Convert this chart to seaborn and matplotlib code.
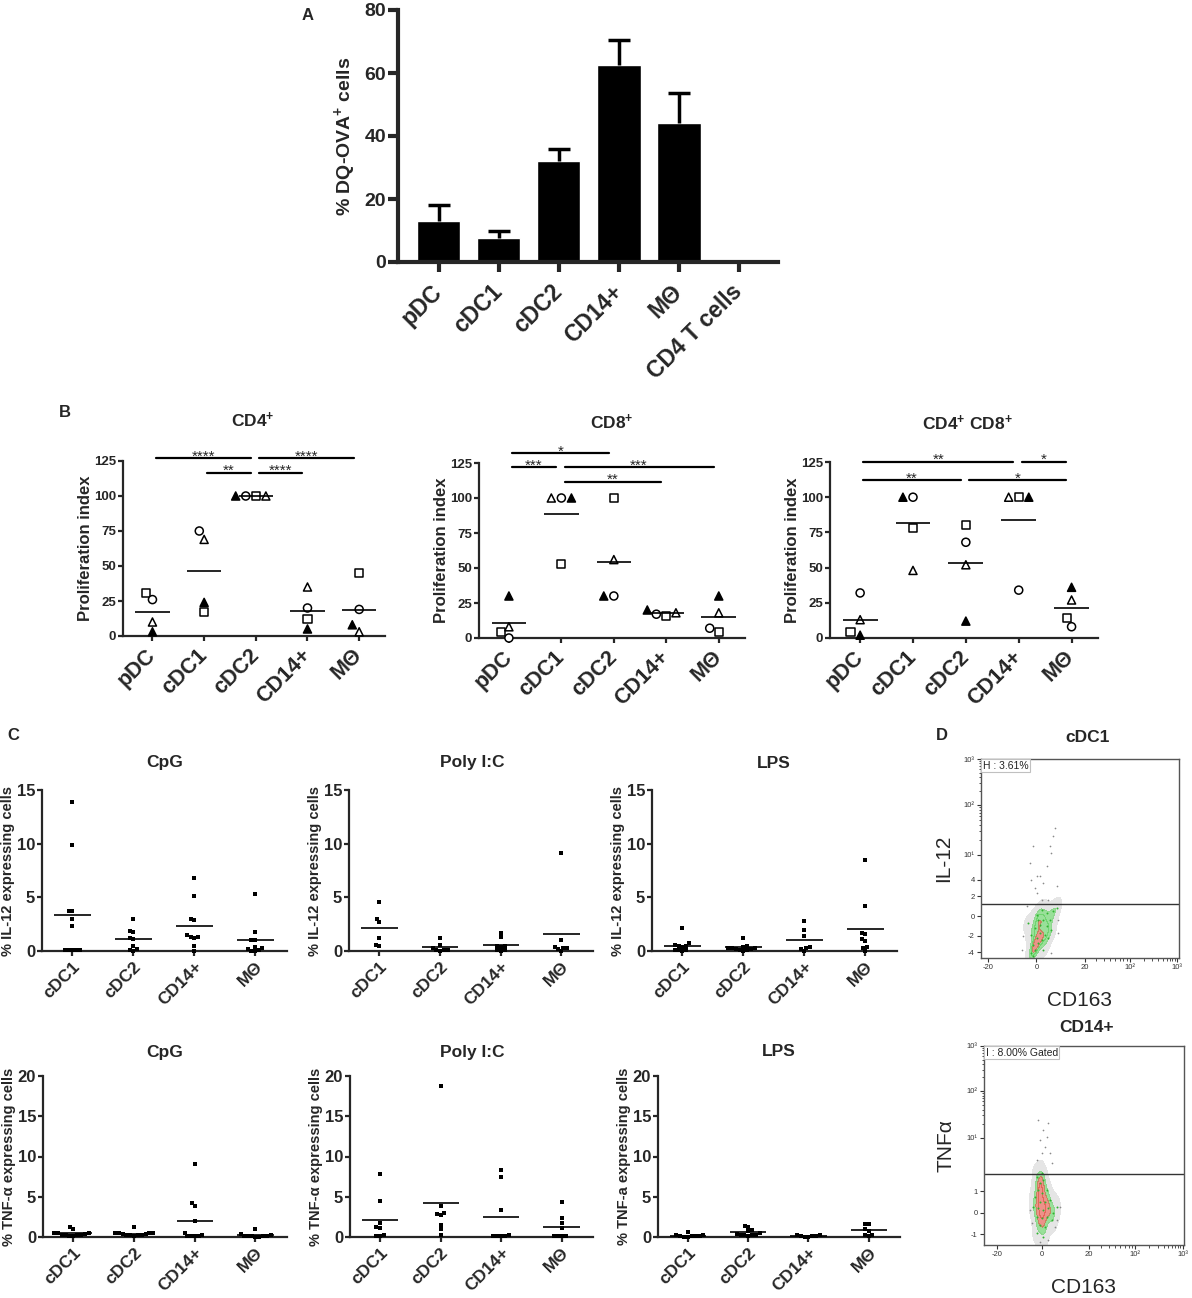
import numpy as np
import pandas as pd
import seaborn as sns
import matplotlib
matplotlib.use("Agg")
import matplotlib.pyplot as plt
from matplotlib.markers import MarkerStyle
from matplotlib.colors import ListedColormap

W, H = 1192, 1298

# ---------------- A: DQ-OVA uptake (mean + SEM)
a_cells = ["pDC", "cDC1", "cDC2", "CD14+", "MΘ", "CD4 T cells"]
a_mean = [13, 7.5, 32, 62.5, 44, 0]
a_sem = [5, 2.5, 4, 8, 9.5, 0]

# ---------------- B: proliferation index, one list per donor (pDC, cDC1, cDC2, CD14+, MΘ)
b_cells = ["pDC", "cDC1", "cDC2", "CD14+", "MΘ"]
cd4_sq = [31, 17, 100, 12, 45]
cd4_ci = [26, 75, 100, 20, 19]
cd4_to = [10, 69, 100, 35, 3]
cd4_tf = [3, 24, 100, 5, 8]

cd8_sq = [4, 53, 100, 16, 4]
cd8_ci = [0, 100, 30, 17, 7]
cd8_to = [8, 100, 56, 18, 18]
cd8_tf = [30, 100, 30, 20, 30]

dp_sq = [4, 78, 80, 100, 14]
dp_ci = [32, 100, 68, 34, 8]
dp_to = [13, 48, 52, 100, 27]
dp_tf = [2, 100, 12, 100, 36]

# significance bars: (from, to, stars, height)
cd4_sig = [("pDC", "cDC2", "****", 127), ("cDC2", "MΘ", "****", 127),
           ("cDC1", "cDC2", "**", 116.5), ("cDC2", "CD14+", "****", 116.5)]
cd8_sig = [("pDC", "cDC2", "*", 132), ("pDC", "cDC1", "***", 122),
           ("cDC1", "MΘ", "***", 122), ("cDC1", "CD14+", "**", 111.5)]
dp_sig = [("pDC", "CD14+", "**", 125), ("CD14+", "MΘ", "*", 125),
          ("pDC", "cDC2", "**", 112), ("cDC2", "MΘ", "*", 112)]

# ---------------- C: cytokine expressing cells (%)
c_cells = ["cDC1", "cDC2", "CD14+", "MΘ"]
il12_cpg = {"cDC1": [13.9, 9.9, 3.7, 3.7, 2.95, 2.35, 0.1, 0.1, 0.1, 0.1, 0.1],
            "cDC2": [3.0, 1.9, 1.8, 1.2, 1.1, 0.5, 0.2, 0.1, 0.0],
            "CD14+": [6.8, 5.1, 3.0, 2.9, 1.5, 1.3, 1.3, 1.2, 0.5, 0.0],
            "MΘ": [5.3, 1.8, 1.0, 1.0, 0.4, 0.3, 0.2, 0.1, 0.0, 0.0]}
il12_pic = {"cDC1": [4.6, 3.0, 2.7, 1.2, 0.6, 0.5],
            "cDC2": [1.2, 0.6, 0.3, 0.1, 0.1, 0.05, 0.0],
            "CD14+": [1.7, 1.3, 0.5, 0.5, 0.4, 0.1, 0.05, 0.0],
            "MΘ": [9.1, 1.0, 0.4, 0.3, 0.3, 0.2, 0.0]}
il12_lps = {"cDC1": [2.1, 0.7, 0.6, 0.5, 0.5, 0.4, 0.1, 0.1, 0.1, 0.0],
            "cDC2": [1.2, 0.5, 0.4, 0.3, 0.3, 0.3, 0.2, 0.2, 0.1, 0.1, 0.0],
            "CD14+": [2.8, 2.0, 1.4, 0.4, 0.3, 0.2, 0.0],
            "MΘ": [8.5, 4.2, 1.7, 1.6, 1.1, 0.9, 0.4, 0.3, 0.0]}
tnf_cpg = {"cDC1": [1.2, 1.0, 0.5, 0.5, 0.5, 0.4, 0.3, 0.3, 0.2, 0.2, 0.1, 0.1],
           "cDC2": [1.2, 0.5, 0.5, 0.5, 0.4, 0.4, 0.3, 0.3, 0.2, 0.2, 0.1, 0.5],
           "CD14+": [9.1, 4.2, 3.9, 2.0, 0.5, 0.3, 0.1, 0.1, 0.1, 0.1],
           "MΘ": [1.0, 0.4, 0.3, 0.1, 0.1, 0.1, 0.1, 0.1, 0.0, 0.0]}
tnf_pic = {"cDC1": [7.8, 4.5, 1.8, 1.2, 1.1, 0.2, 0.1, 0.1],
           "cDC2": [18.8, 3.8, 3.0, 2.9, 2.7, 1.5, 1.0, 0.3],
           "CD14+": [8.3, 7.5, 3.4, 0.2, 0.1, 0.1, 0.1, 0.1],
           "MΘ": [4.4, 2.3, 1.7, 1.1, 0.1, 0.1, 0.1, 0.1]}
tnf_lps = {"cDC1": [0.6, 0.3, 0.2, 0.1, 0.1, 0.1, 0.1, 0.05, 0.0],
           "cDC2": [1.4, 1.2, 0.9, 0.7, 0.5, 0.4, 0.3, 0.3, 0.2, 0.2, 0.1],
           "CD14+": [0.3, 0.2, 0.1, 0.1, 0.1, 0.05, 0.0],
           "MΘ": [1.6, 1.6, 1.0, 0.8, 0.3, 0.3, 0.1]}

# ---------------- D: flow plots, read-off events on a 0-1000 display scale
il12_core_x = [255, 272, 264, 289, 281, 306, 255, 297, 323, 272, 297, 331, 289, 314, 348,
               281, 331, 365, 306, 382, 239, 356, 264, 314, 339]
il12_core_y = [25, 42, 67, 75, 101, 92, 117, 126, 117, 151, 168, 159, 193, 193, 193,
               218, 226, 235, 243, 251, 176, 142, 8, 42, 101]
il12_sparse_x = [247, 264, 272, 281, 297, 314, 331, 356, 365, 373, 339, 306, 348, 281, 382,
                 255, 213, 205, 390, 390, 230, 356]
il12_sparse_y = [477, 561, 352, 327, 410, 377, 461, 528, 611, 653, 293, 293, 561, 410, 360,
                 394, 109, 42, 193, 126, 260, 25]
il12_xt_lab = ["-20", "0", "20", "10²", "10³"]
il12_xt_pos = [37, 280, 524, 751, 990]
il12_yt_lab = ["-4", "-2", "0", "2", "4", "10¹", "10²", "10³"]
il12_yt_pos = [28, 112, 209, 310, 394, 519, 770, 1000]
il12_gate = 271

tnf_core_x = [263, 280, 297, 272, 288, 313, 255, 280, 305, 330, 272, 297, 322, 263, 288,
              313, 347, 280, 305, 263, 297, 338, 363, 247, 288]
tnf_core_y = [343, 310, 327, 276, 260, 276, 243, 218, 218, 226, 184, 176, 184, 142, 134,
              142, 159, 101, 92, 59, 42, 126, 193, 193, 360]
tnf_sparse_x = [272, 297, 322, 280, 305, 330, 263, 338, 313, 288, 363, 380, 230, 355, 280,
                322, 238]
tnf_sparse_y = [628, 578, 611, 528, 494, 461, 427, 410, 544, 461, 126, 193, 176, 92, 17,
                25, 109]
tnf_xt_lab = ["-20", "0", "20", "10²", "10³"]
tnf_xt_pos = [63, 288, 525, 755, 993]
tnf_yt_lab = ["-1", "0", "1", "10¹", "10²", "10³"]
tnf_yt_pos = [54, 162, 271, 539, 774, 1000]
tnf_gate = 355


sns.set_style("ticks")
plt.rcParams["font.family"] = ["Liberation Sans", "DejaVu Sans"]
plt.rcParams["mathtext.fontset"] = "custom"
plt.rcParams["mathtext.rm"] = "Liberation Sans"
plt.rcParams["mathtext.bf"] = "Liberation Sans:bold"
plt.rcParams["mathtext.default"] = "bf"

fig = plt.figure(figsize=(W / 100, H / 100), dpi=100)


def place(l, t, r, b):
    return fig.add_axes([l / W, 1 - b / H, (r - l) / W, (b - t) / H])


def ftext(x, y, s, **kw):
    fig.text(x / W, 1 - y / H, s, ha="center", va="center", **kw)


def mpath(m):
    ms = MarkerStyle(m)
    return ms.get_path().transformed(ms.get_transform())


def base_style(ax, lw, tlen, yfs, xfs, cats, xpad, xva):
    sns.despine(ax=ax)
    for s in ["left", "bottom"]:
        ax.spines[s].set_linewidth(lw)
    ax.tick_params(width=lw, length=tlen, direction="out", labelsize=yfs, pad=1.5)
    ax.tick_params(axis="x", pad=xpad)
    for lab in ax.get_yticklabels():
        lab.set_fontweight("bold")
    ax.set_xticks(range(len(cats)))
    ax.set_xticklabels(cats, rotation=45, ha="right", va=xva, rotation_mode="anchor",
                       fontsize=xfs, fontweight="bold")
    ax.set_xlabel("")


# ---------------- A
ax = place(398, 10, 778, 262)
sns.barplot(x=a_cells, y=a_mean, color="black", saturation=1, width=0.72,
            errorbar=None, ax=ax)
eb = ax.errorbar(range(len(a_cells)), a_mean, yerr=[np.zeros(len(a_sem)), a_sem],
                 fmt="none", ecolor="black", elinewidth=2.5, capsize=8, capthick=2.5)
# one-sided error bars: hide the caps that sit on the bar tops
for cap in eb[1]:
    if np.allclose(cap.get_ydata(), a_mean):
        cap.set_visible(False)
ax.set_ylim(0, 80)
ax.set_xlim(-0.68, 5.65)
ax.set_yticks([0, 20, 40, 60, 80])
base_style(ax, 3, 7, 14, 16.5, a_cells, 12, "center")
ax.set_ylabel("% DQ-OVA$^{+}$ cells", fontsize=14, fontweight="bold", labelpad=5)
ftext(308, 15, "A", fontsize=12, fontweight="bold")

# ---------------- B
donor_style = {"sq": ("s", "white"), "ci": ("o", "white"),
               "to": ("^", "white"), "tf": ("^", "black")}


def prolif_panel(rect, donors, sig, title, tpos):
    ax = place(*rect)
    rows = []
    for key, vals in donors.items():
        for cell, v in zip(b_cells, vals):
            rows.append({"cell": cell, "donor": key, "value": v})
    df = pd.DataFrame(rows)
    sns.swarmplot(data=df, x="cell", y="value", order=b_cells, color="black",
                  size=5.8, linewidth=1.1, edgecolor="black", ax=ax)
    for coll in ax.collections:
        offs = coll.get_offsets()
        if len(offs) == 0:
            continue
        cell = b_cells[int(round(offs[:, 0].mean()))]
        sub = df[df["cell"] == cell]
        coll.set_paths([mpath(donor_style[d][0]) for d in sub["donor"]])
        coll.set_facecolor([donor_style[d][1] for d in sub["donor"]])
        coll.set_edgecolor("black")
        coll.set_clip_on(False)
    means = df.groupby("cell")["value"].mean().reindex(b_cells)
    pos = np.arange(len(b_cells))
    ax.hlines(means.values, pos - 0.33, pos + 0.33, color="black", lw=1.2, zorder=3)
    for a, b, stars, lev in sig:
        i, j = b_cells.index(a), b_cells.index(b)
        ax.plot([i + 0.06, j - 0.1], [lev, lev], color="black", lw=1.6, clip_on=False)
        ax.text((i + j) / 2 - 0.02, lev - 1.5, stars, ha="center", va="baseline",
                fontsize=11, clip_on=False)
    ax.set_ylim(0, 125)
    ax.set_xlim(-0.57, 4.5)
    ax.set_yticks([0, 25, 50, 75, 100, 125])
    base_style(ax, 1.6, 3.5, 9.5, 15.5, b_cells, 8, "center")
    ax.set_ylabel("Proliferation index", fontsize=12, fontweight="bold", labelpad=1)
    ftext(tpos[0], tpos[1], title, fontsize=12.5, fontweight="bold")


prolif_panel((123, 461, 385, 636), {"sq": cd4_sq, "ci": cd4_ci, "to": cd4_to, "tf": cd4_tf},
             cd4_sig, "CD4$^{+}$", (253, 420))
prolif_panel((479, 463, 745, 638), {"sq": cd8_sq, "ci": cd8_ci, "to": cd8_to, "tf": cd8_tf},
             cd8_sig, "CD8$^{+}$", (612, 422))
prolif_panel((830, 462, 1098, 638), {"sq": dp_sq, "ci": dp_ci, "to": dp_to, "tf": dp_tf},
             dp_sig, "CD4$^{+}$ CD8$^{+}$", (967, 423))
ftext(65, 413, "B", fontsize=12, fontweight="bold")


# ---------------- C
def cyto_panel(rect, values, ymax, ylabel, title, tpos):
    ax = place(*rect)
    df = pd.DataFrame([(c, v) for c in c_cells for v in values[c]], columns=["cell", "value"])
    sns.swarmplot(data=df, x="cell", y="value", order=c_cells, color="black",
                  marker="s", size=2.7, linewidth=0, ax=ax)
    for coll in ax.collections:
        coll.set_clip_on(False)
    means = df.groupby("cell")["value"].mean().reindex(c_cells)
    pos = np.arange(len(c_cells))
    ax.hlines(means.values, pos - 0.3, pos + 0.3, color="black", lw=1.2, zorder=3)
    ax.set_ylim(0, ymax)
    ax.set_xlim(-0.5, 3.52)
    ax.set_yticks(list(range(0, ymax + 1, 5)))
    base_style(ax, 1.6, 3.5, 12, 12.5, c_cells, 2, "top")
    ax.set_ylabel(ylabel, fontsize=10.5, fontweight="bold", labelpad=1)
    ftext(tpos[0], tpos[1], title, fontsize=12.5, fontweight="bold")


cyto_panel((42, 790, 287, 951), il12_cpg, 15, "% IL-12 expressing cells", "CpG", (165, 763))
cyto_panel((349, 790, 593, 951), il12_pic, 15, "% IL-12 expressing cells", "Poly I:C", (472, 763))
cyto_panel((652, 790, 897, 951), il12_lps, 15, "% IL-12 expressing cells", "LPS", (774, 763))
cyto_panel((43, 1076, 287, 1237), tnf_cpg, 20, "% TNF-α expressing cells", "CpG", (165, 1052))
cyto_panel((350, 1076, 593, 1237), tnf_pic, 20, "% TNF-α expressing cells", "Poly I:C", (472, 1052))
cyto_panel((658, 1076, 900, 1237), tnf_lps, 20, "% TNF-a expressing cells", "LPS", (779, 1052))
ftext(13, 735, "C", fontsize=12, fontweight="bold")


# ---------------- D
def log_minor(p_lo, v_lo, p_hi, v_hi):
    out = []
    step = 10 ** np.floor(np.log10(v_lo))
    v = v_lo + step
    while v < v_hi - 1e-9:
        f = (np.log10(v) - np.log10(v_lo)) / (np.log10(v_hi) - np.log10(v_lo))
        out.append(p_lo + f * (p_hi - p_lo))
        v += step
    return out


def flow_panel(rect, cx, cy, sx, sy, gate, gate_lab, xtp, xtl, ytp, ytl, ylabel,
               xminor, yminor, title, tpos):
    ax = place(*rect)
    cmap = ListedColormap(["#d4d4d4", "#8fdc8f", "#55cc55", "#e04a3a"])
    sns.kdeplot(x=cx, y=cy, fill=True, levels=[0.05, 0.35, 0.6, 0.85, 1.0],
                cmap=cmap, alpha=0.6, bw_adjust=0.85, ax=ax)
    ax.scatter(sx, sy, s=1.5, color="#8a8a8a", linewidths=0)
    ax.scatter(cx, cy, s=2, color="#2fb52f", linewidths=0)
    ax.axhline(gate, color="#333333", lw=1)
    ax.text(8, 992, gate_lab, ha="left", va="top", fontsize=7.5, color="#222222",
            bbox=dict(boxstyle="square,pad=0.15", fc="white", ec="#c0c0c0", lw=0.8))
    ax.set_xlim(0, 1000)
    ax.set_ylim(0, 1000)
    ax.set_xticks(xtp, xtl)
    ax.set_yticks(ytp, ytl)
    ax.set_xticks(xminor, minor=True)
    ax.set_yticks(yminor, minor=True)
    ax.tick_params(labelsize=5.5, length=3, width=0.8, colors="#333333", pad=1.5)
    ax.tick_params(which="minor", length=1.8, width=0.6, colors="#333333")
    for s in ax.spines.values():
        s.set_linewidth(1)
        s.set_color("#555555")
    ax.set_xlabel("CD163", fontsize=15, labelpad=14)
    ax.set_ylabel(ylabel, fontsize=15, labelpad=8)
    ftext(tpos[0], tpos[1], title, fontsize=12.5, fontweight="bold")


flow_panel((981, 759, 1179, 958), il12_core_x, il12_core_y, il12_sparse_x, il12_sparse_y,
           il12_gate, "H : 3.61%", il12_xt_pos, il12_xt_lab, il12_yt_pos, il12_yt_lab, "IL-12",
           log_minor(524, 20, 751, 100) + log_minor(751, 100, 990, 1000),
           log_minor(519, 10, 770, 100) + log_minor(770, 100, 1000, 1000),
           "cDC1", (1088, 737))
flow_panel((984, 1046, 1184, 1245), tnf_core_x, tnf_core_y, tnf_sparse_x, tnf_sparse_y,
           tnf_gate, "I : 8.00% Gated", tnf_xt_pos, tnf_xt_lab, tnf_yt_pos, tnf_yt_lab, "TNFα",
           log_minor(525, 20, 755, 100) + log_minor(755, 100, 993, 1000),
           log_minor(539, 10, 774, 100) + log_minor(774, 100, 1000, 1000),
           "CD14+", (1087, 1028))
ftext(942, 735, "D", fontsize=12, fontweight="bold")

fig.savefig("out.png", dpi=100)
